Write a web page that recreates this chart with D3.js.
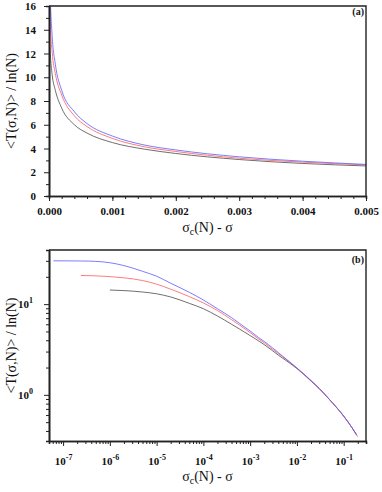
<!DOCTYPE html>
<html lang="en">
<head>
<meta charset="utf-8">
<title>T(sigma,N) / ln(N)</title>
<script src="https://cdn.jsdelivr.net/npm/d3@7"></script>
<style>
  body { margin: 0; background: #fff; }
  svg { display: block; font-family: "Liberation Serif", "Times New Roman", serif; }
  .axis path, .axis line { stroke: #222; }
  .axis path { stroke-width: 1.6px; }
  .axis text { font-family: "Liberation Serif", "Times New Roman", serif; font-size: 11px; font-weight: bold; fill: #111; }
  .frame { fill: none; stroke: #222; stroke-width: 1.4px; }
  .curve { fill: none; stroke-width: 0.8px; }
  .title { font-size: 14px; fill: #111; }
  .tag { font-size: 10px; font-weight: bold; fill: #111; }
</style>
</head>
<body>
<script>
// sigma_c(N) - sigma, shared grid for all three curves
const gridX = [6.2e-8, 1e-7, 2.4e-7, 5e-7, 1e-6, 2e-6, 5e-6, 1e-5, 2e-5, 5e-5, 1e-4, 2e-4,
  4e-4, 6e-4, 1e-3, 1.5e-3, 2e-3, 3e-3, 4e-3, 5e-3, 1e-2, 2e-2, 3e-2, 5e-2, 0.1, 0.15, 0.19, 0.2];

// <T(sigma,N)> / ln(N), null where the curve has no point
const blueY = [30.0, 30.0, 29.9, 29.6, 28.6, 26.6, 23.0, 20.3, 17.0, 13.5, 11.1, 8.9,
  7.1, 6.1, 5.05, 4.3, 3.88, 3.3, 2.93, 2.66, 1.98, 1.44, 1.18, 0.885, 0.583, 0.436, 0.36, null];
const redY = [null, null, 20.7, 20.5, 20.1, 19.5, 18.2, 16.6, 14.6, 12.1, 10.3, 8.5,
  6.75, 5.85, 4.85, 4.15, 3.75, 3.18, 2.85, 2.62, 1.97, 1.43, 1.175, 0.885, 0.583, 0.436, 0.36, 0.345];
const blackY = [null, null, null, null, 14.3, 14.1, 13.6, 13.0, 12.0, 10.2, 8.9, 7.4,
  6.0, 5.3, 4.5, 3.95, 3.58, 3.07, 2.74, 2.53, 1.95, 1.42, 1.17, 0.885, 0.583, 0.436, 0.36, null];

const seriesNames = ["black", "red", "blue"];
const seriesColors = ["#4a4a4a", "#ff5a5a", "#5a5aff"];

// tick values
const linXTicks = [0, 0.001, 0.002, 0.003, 0.004, 0.005];
const linYTicks = [0, 2, 4, 6, 8, 10, 12, 14, 16];
const logXTicks = [1e-7, 1e-6, 1e-5, 1e-4, 1e-3, 1e-2, 1e-1];
const logYTicks = [1, 10];

const width = 382, height = 492;
const series = [blackY, redY, blueY].map((ys, i) => ({
  name: seriesNames[i],
  color: seriesColors[i],
  pts: gridX.map((x, j) => ({x, y: ys[j]})).filter(d => d.y != null)
}));

const svg = d3.select("body").append("svg")
  .attr("width", width).attr("height", height);

function sigmaTitle(g, x, y) {
  const t = g.append("text").attr("class", "title")
    .attr("x", x).attr("y", y).attr("text-anchor", "middle");
  t.append("tspan").text("\u03c3");
  t.append("tspan").attr("dy", 3).attr("font-size", "10px").text("c");
  t.append("tspan").attr("dy", -3).text("(N) - \u03c3");
}

function yTitle(g, x, y) {
  g.append("text").attr("class", "title")
    .attr("transform", `translate(${x},${y}) rotate(-90)`)
    .attr("text-anchor", "middle")
    .text("<T(\u03c3,N)> / ln(N)");
}

// ---------- panel (a): linear ----------
const a = {left: 49, right: 366, top: 6, bottom: 196};
const xa = d3.scaleLinear().domain([0, 0.005]).range([a.left, a.right]);
const ya = d3.scaleLinear().domain([0, 16]).range([a.bottom, a.top]);

svg.append("clipPath").attr("id", "clipA")
  .append("rect").attr("x", a.left).attr("y", a.top)
  .attr("width", a.right - a.left).attr("height", a.bottom - a.top);

const lineA = d3.line().x(d => xa(d.x)).y(d => ya(d.y)).curve(d3.curveMonotoneX);
svg.append("g").attr("clip-path", "url(#clipA)")
  .selectAll("path").data(series).join("path")
    .attr("class", "curve")
    .attr("stroke", d => d.color)
    .attr("d", d => lineA(d.pts.filter(p => p.x <= 0.011)));

// minor ticks first, then majors
svg.append("g").attr("class", "axis")
  .attr("transform", `translate(0,${a.bottom})`)
  .call(d3.axisBottom(xa).tickValues(d3.range(0, 0.00501, 0.0002)).tickSize(3).tickFormat(""));
svg.append("g").attr("class", "axis")
  .attr("transform", `translate(0,${a.bottom})`)
  .call(d3.axisBottom(xa).tickValues(linXTicks).tickSize(5).tickSizeOuter(0).tickPadding(6)
    .tickFormat(d3.format(".3f")));
svg.append("g").attr("class", "axis")
  .attr("transform", `translate(${a.left},0)`)
  .call(d3.axisLeft(ya).tickValues(d3.range(1, 16, 2)).tickSize(3).tickFormat(""));
svg.append("g").attr("class", "axis")
  .attr("transform", `translate(${a.left},0)`)
  .call(d3.axisLeft(ya).tickValues(linYTicks).tickSize(5).tickSizeOuter(0).tickPadding(8));

svg.append("path").attr("class", "frame")
  .attr("d", `M${a.left},${a.top}H${a.right}V${a.bottom}`);
svg.append("text").attr("class", "tag")
  .attr("x", a.right - 2).attr("y", a.top + 9).attr("text-anchor", "end").text("(a)");
sigmaTitle(svg, (a.left + a.right) / 2, 232);
yTitle(svg, 16, (a.top + a.bottom) / 2);

// ---------- panel (b): log-log ----------
const b = {left: 49, right: 366, top: 250, bottom: 441};
const xb = d3.scaleLog().domain([5e-8, 0.3]).range([b.left, b.right]);
const yb = d3.scaleLog().domain([0.31, 39.5]).range([b.bottom, b.top]);

const lineB = d3.line().x(d => xb(d.x)).y(d => yb(d.y)).curve(d3.curveMonotoneX);
svg.append("g")
  .selectAll("path").data(series).join("path")
    .attr("class", "curve")
    .attr("stroke", d => d.color)
    .attr("d", d => lineB(d.pts));

const minorX = [];
for (let e = -8; e <= -1; e++) for (let m = 2; m <= 9; m++) {
  const v = m * Math.pow(10, e);
  if (v >= 5e-8 && v <= 0.3) minorX.push(v);
}
const minorY = [0.4, 0.5, 0.6, 0.7, 0.8, 0.9, 2, 3, 4, 5, 6, 7, 8, 9, 20, 30];

svg.append("g").attr("class", "axis")
  .attr("transform", `translate(0,${b.bottom})`)
  .call(d3.axisBottom(xb).tickValues(minorX).tickSize(3).tickFormat(""));
const gxb = svg.append("g").attr("class", "axis")
  .attr("transform", `translate(0,${b.bottom})`)
  .call(d3.axisBottom(xb).tickValues(logXTicks).tickSize(5).tickSizeOuter(0).tickPadding(11)
    .tickFormat(""));
svg.append("g").attr("class", "axis")
  .attr("transform", `translate(${b.left},0)`)
  .call(d3.axisLeft(yb).tickValues(minorY).tickSize(3).tickFormat(""));
const gyb = svg.append("g").attr("class", "axis")
  .attr("transform", `translate(${b.left},0)`)
  .call(d3.axisLeft(yb).tickValues(logYTicks).tickSize(5).tickSizeOuter(0).tickPadding(11)
    .tickFormat(""));

// power-of-ten labels with superscripts
function powLabel(sel) {
  sel.each(function(d) {
    const p = Math.round(Math.log10(d));
    const t = d3.select(this).text(null);
    t.append("tspan").text("10");
    t.append("tspan").attr("dy", -5).attr("font-size", "8px").text(p < 0 ? "-" + (-p) : p);
  });
}
gxb.selectAll(".tick text").call(powLabel);
gyb.selectAll(".tick text").call(powLabel);

svg.append("path").attr("class", "frame")
  .attr("d", `M${b.left},${b.top}H${b.right}V${b.bottom}`);
svg.append("text").attr("class", "tag")
  .attr("x", b.right - 2).attr("y", b.top + 13).attr("text-anchor", "end").text("(b)");
sigmaTitle(svg, (b.left + b.right) / 2, 481);
yTitle(svg, 16, (b.top + b.bottom) / 2);
</script>
</body>
</html>
